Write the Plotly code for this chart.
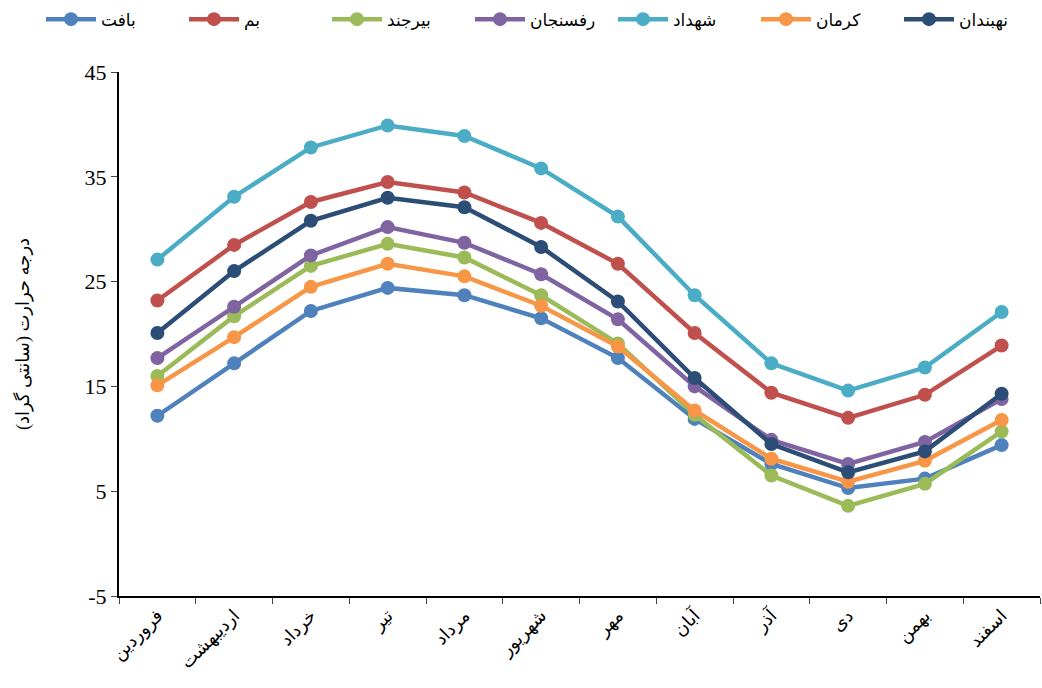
import plotly.graph_objects as go

months = ["فروردین", "اردیبهشت", "خرداد", "تیر", "مرداد", "شهریور",
          "مهر", "آبان", "آذر", "دی", "بهمن", "اسفند"]

baft = [12.2, 17.2, 22.2, 24.4, 23.7, 21.5, 17.7, 11.9, 7.6, 5.3, 6.2, 9.4]
bam = [23.2, 28.5, 32.6, 34.5, 33.5, 30.6, 26.7, 20.1, 14.4, 12.0, 14.2, 18.9]
birjand = [16.0, 21.7, 26.5, 28.6, 27.3, 23.7, 19.1, 12.3, 6.5, 3.6, 5.7, 10.7]
rafsanjan = [17.7, 22.6, 27.5, 30.2, 28.7, 25.7, 21.4, 15.0, 9.9, 7.6, 9.7, 13.8]
shahdad = [27.1, 33.1, 37.8, 39.9, 38.9, 35.8, 31.2, 23.7, 17.2, 14.6, 16.8, 22.1]
kerman = [15.1, 19.7, 24.5, 26.7, 25.5, 22.7, 18.8, 12.7, 8.1, 5.9, 7.9, 11.8]
nehbandan = [20.1, 26.0, 30.8, 33.0, 32.1, 28.3, 23.1, 15.8, 9.5, 6.8, 8.8, 14.3]

y_ticks = [-5, 5, 15, 25, 35, 45]
y_ticklabels = ["-5", "5", "15", "25", "35", "45"]

series = [
    ("بافت", baft, "#4F81BD"),
    ("بم", bam, "#C0504D"),
    ("بیرجند", birjand, "#9BBB59"),
    ("رفسنجان", rafsanjan, "#8064A2"),
    ("شهداد", shahdad, "#4BACC6"),
    ("کرمان", kerman, "#F79646"),
    ("نهبندان", nehbandan, "#2C4D75"),
]

y_title = "درجه حرارت (سانتی گراد)"

fig = go.Figure()
for name, vals, color in series:
    fig.add_trace(go.Scatter(
        x=months, y=vals, name=name, mode="lines+markers",
        line=dict(color=color, width=4.5),
        marker=dict(color=color, size=14),
    ))

fig.update_layout(
    width=1042, height=688,
    margin=dict(l=119, r=2, t=70, b=92),
    paper_bgcolor="white", plot_bgcolor="white",
    font=dict(family="Liberation Serif, DejaVu Sans", color="black"),
    showlegend=True,
    legend=dict(orientation="h", x=-0.075, xanchor="left", y=1.1, yanchor="middle",
                font=dict(size=17), itemwidth=50, entrywidth=78,
                entrywidthmode="pixels", traceorder="normal"),
)
fig.update_xaxes(
    type="category", range=[-0.5, 11.5], tickson="boundaries",
    ticks="outside", ticklen=6,
    showline=True, linecolor="black", linewidth=2, mirror=False,
    showgrid=False, tickangle=-45, tickfont=dict(size=18),
)
fig.update_yaxes(
    range=[-5, 45], tickvals=y_ticks, ticktext=y_ticklabels,
    ticks="outside", ticklen=6,
    showline=True, linecolor="black", linewidth=2,
    showgrid=False, zeroline=False, tickfont=dict(size=22),
    title=dict(text=y_title, font=dict(size=18), standoff=50),
)

fig.write_html("out.html")
